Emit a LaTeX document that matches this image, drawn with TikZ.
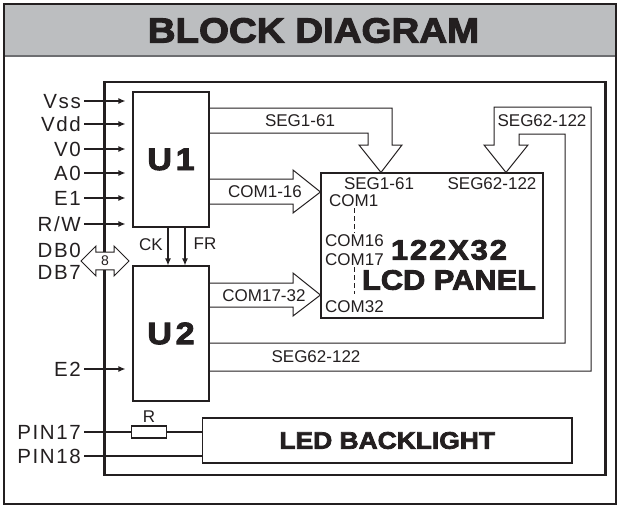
\documentclass[tikz,border=0pt]{standalone}
\usepackage{fontspec}
\usepackage{tikz}
\usetikzlibrary{positioning, arrows.meta, shapes.arrows}
\setmainfont{Liberation Sans}
\newfontfamily\pinfont[LetterSpace=8]{Liberation Sans}
\newfontfamily\heavyfont[FakeBold=3, FakeStretch=1.1]{Liberation Sans Bold}
\newfontfamily\widefont[FakeBold=3, FakeStretch=1.1, LetterSpace=7]{Liberation Sans Bold}
\definecolor{ink}{HTML}{231F20}
\definecolor{band}{HTML}{BCBEC0}
\definecolor{rule}{HTML}{6D6E71}

\begin{document}
\begin{tikzpicture}[x=1pt, y=-1pt,
      frame/.style={draw=ink, line width=2.5pt},
      chip/.style={draw=ink, line width=1.1pt, minimum width=76pt, minimum height=135pt,
                   inner sep=0pt, text=ink, font=\widefont\addfontfeatures{LetterSpace=12}\fontsize{31}{31}\selectfont},
      panel/.style={draw=ink, line width=1.1pt, inner sep=0pt},
      pin/.style={anchor=east, inner sep=0pt, text height=14.5pt, text depth=0pt, text=ink,
                  font=\pinfont\fontsize{20.5}{20.5}\selectfont},
      tag/.style={inner sep=0pt, text=ink, font=\fontsize{17}{17}\selectfont},
      heavy/.style={inner sep=0pt, text=ink, font=\heavyfont\fontsize{#1}{#1}\selectfont},
      sig/.style={draw=ink, line width=1.2pt, -{Latex[length=7pt, width=6pt]}},
      wire/.style={draw=ink, line width=1.2pt},
      fat/.style={draw=ink, line width=1pt, line join=miter},
      ticks/.style={draw=ink, line width=0.8pt, dash pattern=on 5pt off 3pt}]
    \useasboundingbox (0,0) rectangle (619,506);
    % title band and frames
    \fill[band] (4,4) rectangle (616,56);
    \draw[rule, line width=1.5pt] (4,56) -- (616,56);
    \node[heavy=35] (title) at (313.5,30.5) {BLOCK DIAGRAM};
    \draw[frame] (4,4) rectangle (616,504);
    \draw[frame] (104.5,82) rectangle (605.5,475);

    % blocks
    \node[chip] (u1) at (171,159.5) {U1};
    \node[chip] (u2) at (171,333.5) {U2};
    \node[panel, minimum width=222pt, minimum height=145pt] (lcd) at (432,245.5) {};
    \node[panel, minimum width=369.5pt, minimum height=45pt, heavy=24] (led) at (387.25,440.5) {LED BACKLIGHT};
    \node[panel, minimum width=35pt, minimum height=12pt] (res) at (149,432) {};
    \node[tag, above=3pt of res] (rlbl) {R};

    % pins
    \foreach \name/\txt/\y in {vss/Vss/101, vdd/Vdd/124, vzero/V0/149, azero/A0/173,
        eone/E1/198, rw/{R/W}/224, dbzero/DB0/250, dbseven/DB7/272, etwo/E2/369,
        pina/PIN17/432, pinb/PIN18/456}
      \node[pin] (\name) at (81,\y) {\txt};
    \foreach \name in {vss, vdd, vzero, azero, eone, rw}
      \draw[sig, shorten >=7pt] ([xshift=3pt]\name.east) -- (u1.west |- \name.east);
    \draw[sig, shorten >=7pt] ([xshift=3pt]etwo.east) -- (u2.west |- etwo.east);
    \node[double arrow, draw=ink, fill=white, line width=1pt, minimum height=48pt,
          double arrow head extend=6pt, inner xsep=1pt, inner ysep=3.5pt, text=ink,
          font=\fontsize{14}{14}\selectfont] (bus) at (105,261) {8};

    % clock lines
    \draw[sig] ([xshift=-3pt]u1.south) -- ([xshift=-3pt]u2.north);
    \draw[sig] ([xshift=14pt]u1.south) -- ([xshift=14pt]u2.north);
    \node[tag, anchor=east] (ck) at (163,245) {CK};
    \node[tag] (fr) at (205,244) {FR};

    % backlight
    \draw[wire] ([xshift=3pt]pina.east) -- (res.west);
    \draw[wire] (res.east) -- (led.west |- res.east);
    \draw[wire] ([xshift=3pt]pinb.east) -- (led.west |- pinb.east);

    % buses to the panel
    \draw[fat] (u1.east |- 0,108) -- (392,108) -- (392,145) -- (402,145) -- (lcd.north -| 381,0)
      -- (359,145) -- (368,145) -- (368,133) -- (u1.east |- 0,133);
    \node[tag] (sega) at (300,121) {SEG1-61};
    \draw[fat] (u1.east |- 0,179) -- (293,179) -- (293,170) -- (lcd.west |- 0,192)
      -- (293,213) -- (293,204) -- (u1.east |- 0,204);
    \node[tag] (coma) at (265,192) {COM1-16};
    \draw[fat] (u2.east |- 0,283) -- (293,283) -- (293,273) -- (lcd.west |- 0,295)
      -- (293,316) -- (293,307) -- (u2.east |- 0,307);
    \node[tag] (comb) at (264,296) {COM17-32};
    \draw[fat] (u2.east |- 0,371) -- (591,371) -- (591,107) -- (494,107) -- (494,145) -- (484,145)
      -- (lcd.north -| 506,0) -- (528,145) -- (519,145) -- (519,134) -- (565,134) -- (565,343)
      -- (u2.east |- 0,343);
    \node[tag] (segb) at (542,121) {SEG62-122};
    \node[tag] (segc) at (316,357) {SEG62-122};

    % panel inside
    \node[tag] (lsega) at (379,184) {SEG1-61};
    \node[tag] (lsegb) at (492,184) {SEG62-122};
    \node[tag, anchor=west] (lcoma) at (329,201) {COM1};
    \node[tag, anchor=west] (lcomp) at (325,241) {COM16};
    \node[tag, anchor=west] (lcomq) at (325,260) {COM17};
    \node[tag, anchor=west] (lcomz) at (325,307) {COM32};
    \draw[ticks, shorten <=1pt, shorten >=2pt] (lcoma.south -| 354,0) -- (lcomp.north -| 354,0);
    \draw[ticks, shorten <=1pt, shorten >=7pt] (lcomq.south -| 354,0) -- (lcomz.north -| 354,0);
    \node[inner sep=0pt, text=ink, font=\widefont\fontsize{28}{28}\selectfont] (lsize) at (449,250) {122X32};
    \node[heavy=28] (lname) at (449,280) {LCD PANEL};
  \end{tikzpicture}
\end{document}
